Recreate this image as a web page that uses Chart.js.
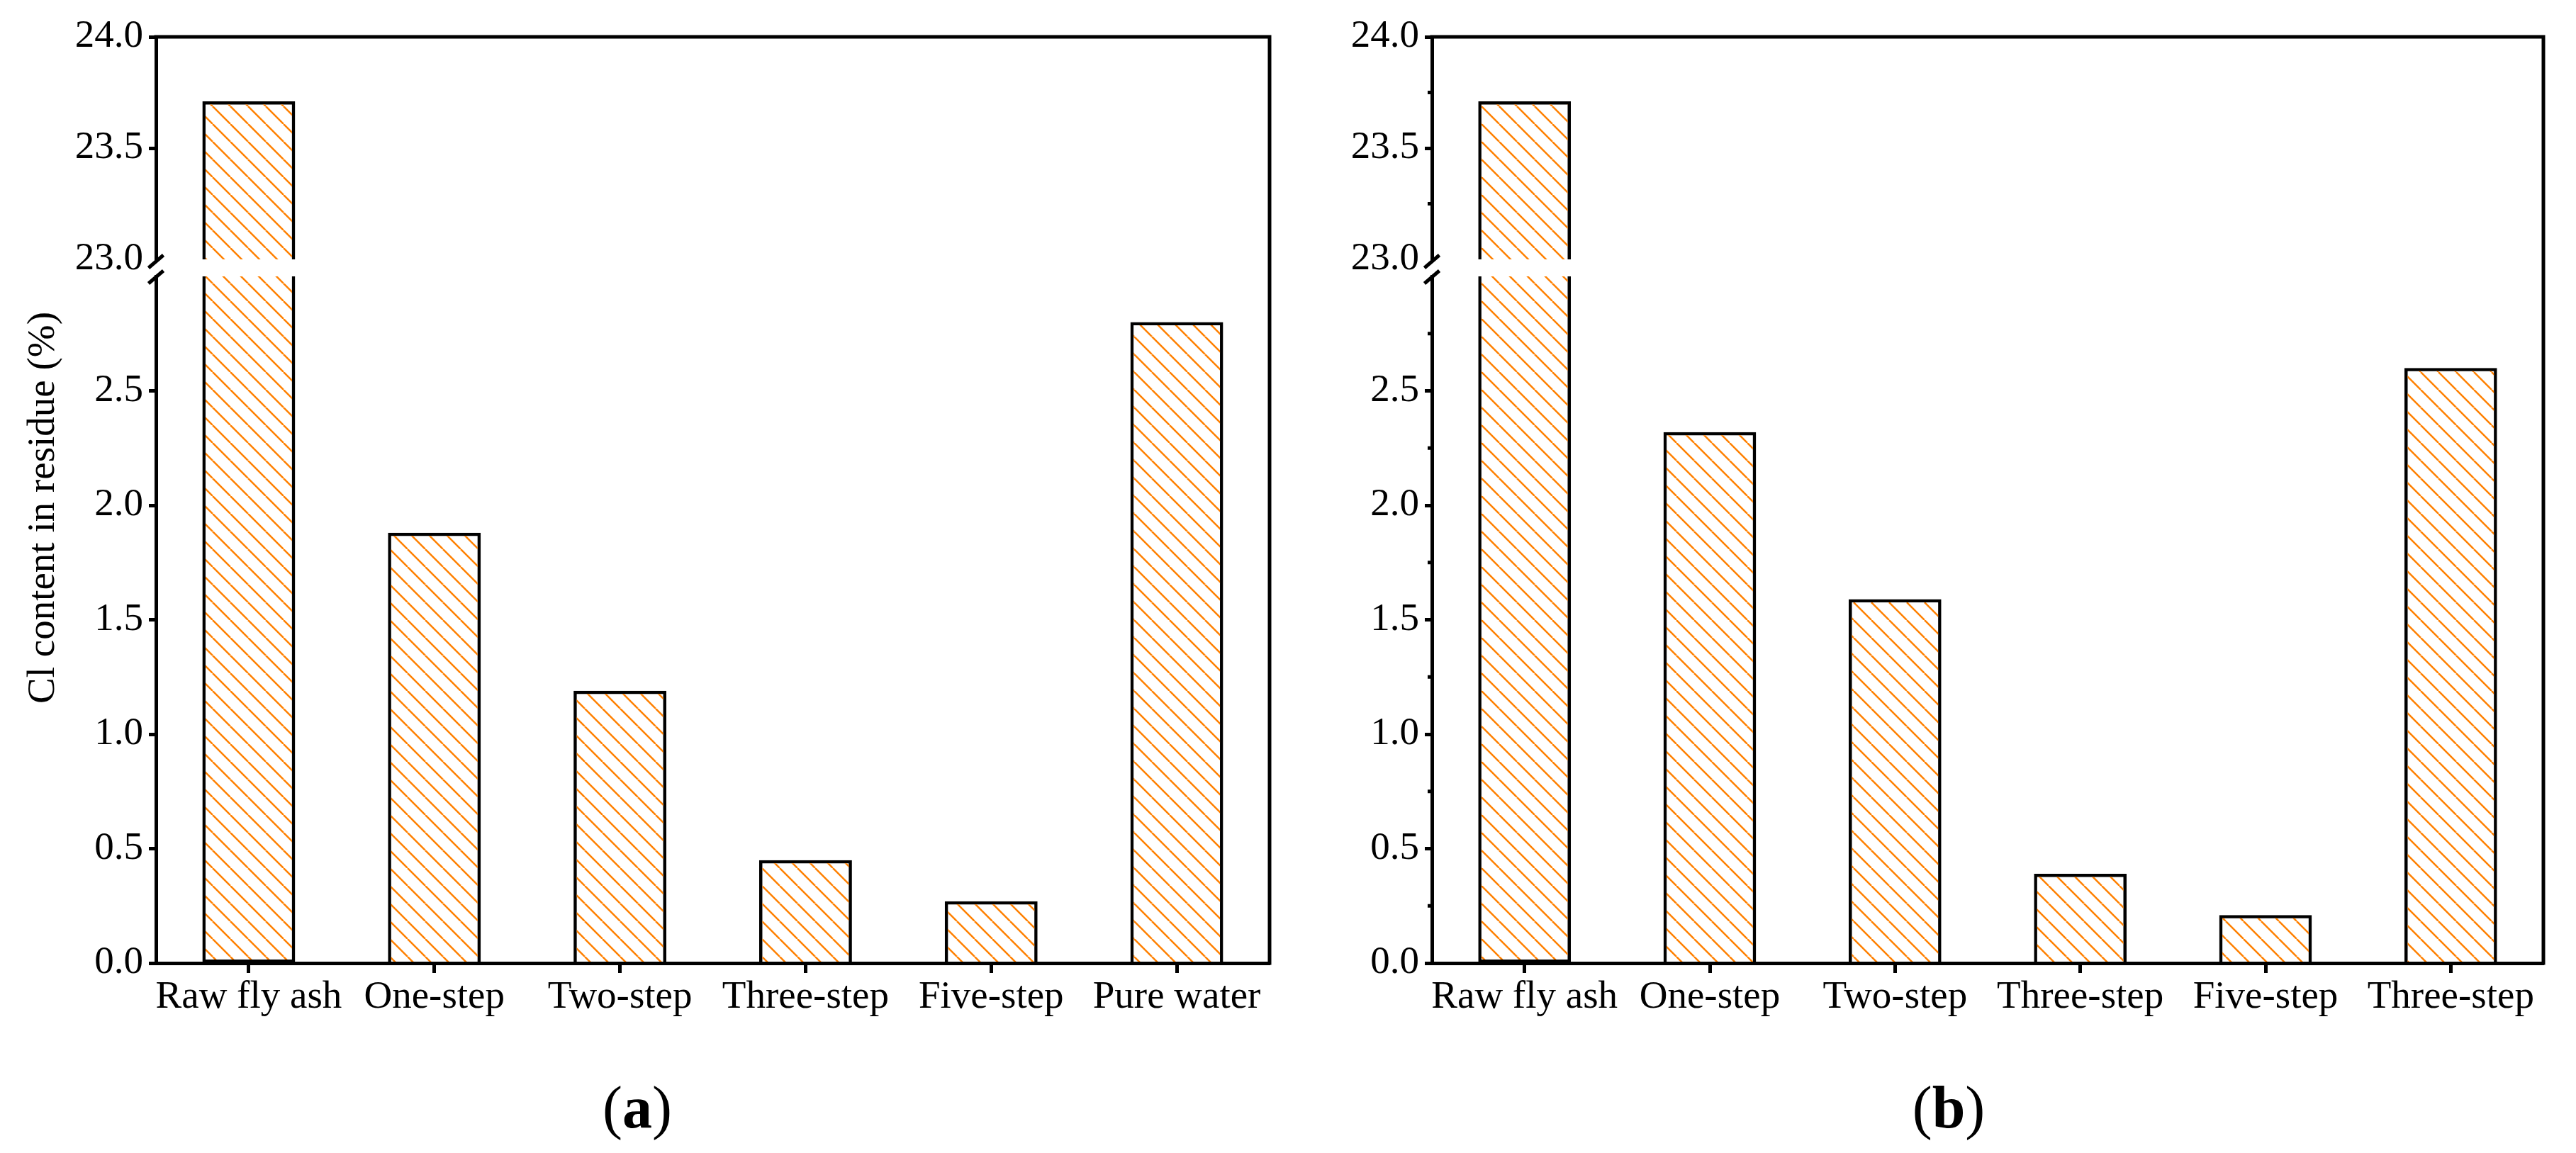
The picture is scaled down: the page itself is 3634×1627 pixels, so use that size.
<!DOCTYPE html>
<html>
<head>
<meta charset="utf-8">
<script src="https://cdn.jsdelivr.net/npm/chart.js@4.4.0/dist/chart.umd.min.js"></script>
<style>
  html, body { margin: 0; padding: 0; background: #fff; }
  body { width: 3634px; height: 1627px; position: relative; overflow: hidden;
         font-family: 'Liberation Serif', 'Times New Roman', serif; }
  .panel { position: absolute; top: 0; height: 1480px; }
  #cajaA { left: 0; width: 1840px; }
  #cajaB { left: 1840px; width: 1794px; }
  .rotulo { position: absolute; top: 1521px; font-size: 84px; line-height: 84px;
            transform: translateX(-50%); color: #000; white-space: nowrap; }
</style>
</head>
<body>
<div class="panel" id="cajaA"><canvas id="graficoA"></canvas></div>
<div class="panel" id="cajaB"><canvas id="graficoB"></canvas></div>
<div class="rotulo" style="left:899px">(<b>a</b>)</div>
<div class="rotulo" style="left:2749px">(<b>b</b>)</div>

<script>
// datos
const categoriasA = ['Raw fly ash', 'One-step', 'Two-step', 'Three-step', 'Five-step', 'Pure water'];
const valoresA = [23.71, 1.88, 1.19, 0.45, 0.27, 2.80];

const categoriasB = ['Raw fly ash', 'One-step', 'Two-step', 'Three-step', 'Five-step', 'Three-step'];
const valoresB = [23.71, 2.32, 1.59, 0.39, 0.21, 2.60];

// eje Y partido: tramo superior e inferior
const rangoSuperior = [23, 24];
const rangoInferior = [0, 3];
const ticksSuperior = [23.0, 23.5, 24.0];
const ticksInferior = [0.0, 0.5, 1.0, 1.5, 2.0, 2.5];

const tituloY = 'Cl content in residue (%)';

const FUENTE = "'Liberation Serif', 'Times New Roman', serif";
Chart.defaults.font.family = FUENTE;
Chart.defaults.font.size = 55;
Chart.defaults.color = '#000';

// trama de rayas naranjas "\\\"
function crearTrama(ctx) {
    const s = 25;
    const tile = document.createElement('canvas');
    tile.width = s;
    tile.height = s;
    const g = tile.getContext('2d');
    g.strokeStyle = '#ff8000';
    g.lineWidth = 2.5;
    for (const k of [-1, 0, 1]) {
        g.beginPath();
        g.moveTo(k * s, 0);
        g.lineTo(k * s + s, s);
        g.stroke();
    }
    return ctx.createPattern(tile, 'repeat');
}

// marco superior/derecho, marcas de corte, ticks menores y título
const pluginMarco = {
    id: 'marco',
    afterDraw(chart, args, opts) {
        const { ctx, chartArea: a } = chart;
        const sup = chart.scales.ySup;
        const inf = chart.scales.yInf;
        ctx.save();
        ctx.strokeStyle = '#000';
        ctx.lineWidth = 5;
        ctx.lineCap = 'square';
        ctx.beginPath();
        ctx.moveTo(a.left, a.top);
        ctx.lineTo(a.right, a.top);
        ctx.lineTo(a.right, a.bottom);
        ctx.stroke();

        // marcas // del corte
        ctx.lineCap = 'butt';
        for (const y of [sup.bottom + 3, inf.top + 1]) {
            ctx.beginPath();
            ctx.moveTo(a.left - 10.5, y + 9);
            ctx.lineTo(a.left + 10.5, y - 9);
            ctx.stroke();
        }

        if (opts.menores) {
            for (const s of [sup, inf]) {
                for (let v = s.min + 0.25; v < s.max; v += 0.5) {
                    const y = s.getPixelForValue(v);
                    ctx.beginPath();
                    ctx.moveTo(a.left - 6, y);
                    ctx.lineTo(a.left, y);
                    ctx.stroke();
                }
            }
        }

        if (opts.titulo) {
            ctx.translate(62, (a.top + a.bottom) / 2 + 11);
            ctx.rotate(-Math.PI / 2);
            ctx.fillStyle = '#000';
            ctx.font = '55px ' + FUENTE;
            ctx.textAlign = 'center';
            ctx.textBaseline = 'middle';
            ctx.fillText(opts.titulo, 0, 0);
        }
        ctx.restore();
    }
};

function ejeY(peso, orden, rango, ticks, anchoEje) {
    return {
        type: 'linear',
        position: 'left',
        stack: 'v',
        stackWeight: peso,
        weight: orden,
        min: rango[0],
        max: rango[1],
        afterBuildTicks: (s) => { s.ticks = ticks.map(v => ({ value: v })); },
        afterFit: (s) => { s.width = anchoEje; },
        grid: {
            drawOnChartArea: false,
            drawTicks: true,
            tickLength: 10,
            tickWidth: 5,
            tickColor: (c) => (c.tick && c.tick.value === rangoSuperior[0]) ? 'rgba(0,0,0,0)' : '#000'
        },
        border: { display: true, color: '#000', width: 5, z: 1 },
        ticks: {
            color: '#000',
            padding: 8,
            font: { family: FUENTE, size: 55 },
            callback: (v) => Number(v).toFixed(1)
        }
    };
}

function crearPanel(idCanvas, categorias, valores, conf) {
    const ctx = document.getElementById(idCanvas).getContext('2d');
    const trama = crearTrama(ctx);
    const tope = rangoInferior[1];

    return new Chart(ctx, {
        type: 'bar',
        data: {
            labels: categorias,
            datasets: [
                {
                    // tramo inferior (0 - 3)
                    data: valores.map(v => Math.min(v, tope)),
                    yAxisID: 'yInf',
                    backgroundColor: trama,
                    borderColor: '#000',
                    borderWidth: 4.5,
                    borderSkipped: (c) => valores[c.dataIndex] > tope ? 'top' : 'bottom',
                    grouped: false,
                    barPercentage: 0.5,
                    categoryPercentage: 1.0
                },
                {
                    // tramo superior (23 - 24)
                    data: valores.map(v => v > rangoSuperior[0] ? [rangoSuperior[0], v] : null),
                    yAxisID: 'ySup',
                    backgroundColor: trama,
                    borderColor: '#000',
                    borderWidth: 4.5,
                    borderSkipped: 'bottom',
                    grouped: false,
                    barPercentage: 0.5,
                    categoryPercentage: 1.0
                }
            ]
        },
        options: {
            responsive: true,
            maintainAspectRatio: false,
            animation: false,
            devicePixelRatio: 1,
            layout: {
                autoPadding: false,
                padding: { left: 0, top: 52, right: conf.derecha, bottom: 0 }
            },
            plugins: {
                legend: { display: false },
                tooltip: { enabled: false },
                marco: { titulo: conf.titulo, menores: conf.menores }
            },
            scales: {
                x: {
                    type: 'category',
                    offset: true,
                    afterFit: (s) => { s.height = 121; },
                    grid: {
                        offset: false,
                        drawOnChartArea: false,
                        drawTicks: true,
                        tickLength: 14,
                        tickWidth: 5,
                        tickColor: '#000'
                    },
                    border: { display: true, color: '#000', width: 5, z: 1 },
                    ticks: {
                        color: '#000',
                        padding: 2,
                        autoSkip: false,
                        maxRotation: 0,
                        minRotation: 0,
                        font: { family: FUENTE, size: 55 }
                    }
                },
                ySup: ejeY(314, 2, rangoSuperior, ticksSuperior, conf.anchoEje),
                yGap: {
                    type: 'linear',
                    position: 'left',
                    stack: 'v',
                    stackWeight: 24,
                    weight: 1,
                    display: false
                },
                yInf: ejeY(969, 0, rangoInferior, ticksInferior, conf.anchoEje)
            }
        },
        plugins: [pluginMarco]
    });
}

document.addEventListener('DOMContentLoaded', () => {
    crearPanel('graficoA', categoriasA, valoresA, { anchoEje: 220, derecha: 49, titulo: tituloY, menores: false });
    crearPanel('graficoB', categoriasB, valoresB, { anchoEje: 180, derecha: 46, titulo: null, menores: true });
});
</script>
</body>
</html>
